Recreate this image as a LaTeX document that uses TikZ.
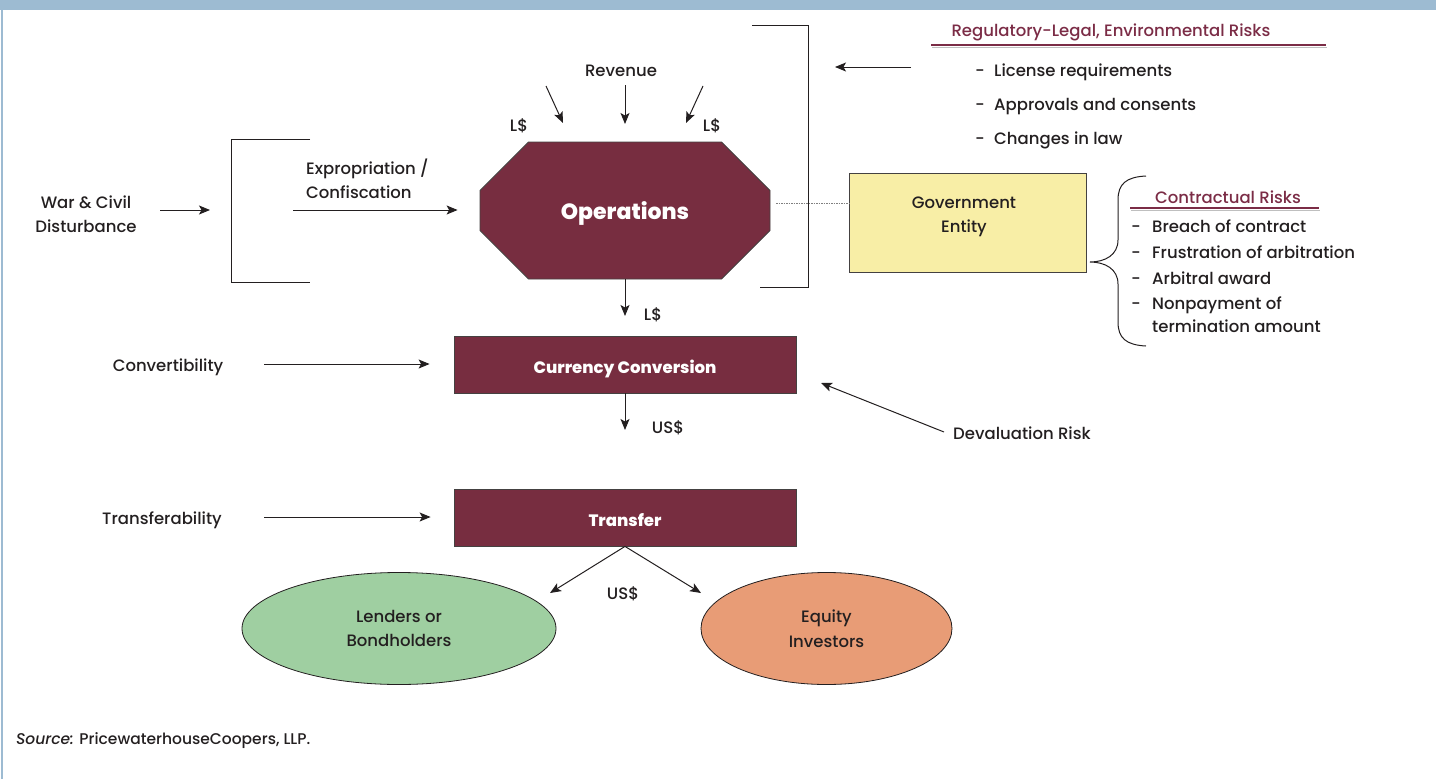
\documentclass[tikz,border=0pt]{standalone}
\usepackage{fontspec}
\setmainfont{Poppins}[UprightFont=* Medium,BoldFont=* ExtraBold,ItalicFont=* Medium Italic]
\usetikzlibrary{arrows.meta,shapes.geometric,shapes.misc}

\definecolor{opsred}{HTML}{772D40}
\definecolor{headred}{HTML}{7B2C46}
\definecolor{lendgreen}{HTML}{9FCFA1}
\definecolor{eqorange}{HTML}{E89C76}
\definecolor{govyellow}{HTML}{F8EEA6}
\definecolor{bandblue}{HTML}{9DBBD2}
\definecolor{txt}{HTML}{231F20}

\newcommand\lblfont{\fontsize{16.5}{24.5}\selectfont}
\newcommand\boxfont{\bfseries\fontsize{16.5}{20}\selectfont}
\newcommand\opsfont{\bfseries\fontsize{22}{26}\selectfont}
\newcommand\srcfont{\fontsize{15.5}{20}\selectfont}

\begin{document}
\begin{tikzpicture}[x=1pt,y=-1pt,
		lbl/.style={font=\lblfont,text=txt,inner sep=0pt,align=center},
		item/.style={lbl,anchor=west,text height=12pt,text depth=0pt},
		arr/.style={draw=txt,line width=1pt,-{Stealth[length=11pt,width=9pt,inset=2.5pt]}},
		darkbox/.style={draw=txt!85,fill=opsred,text=white,font=\boxfont,line width=0.8pt,
			minimum width=342pt,minimum height=57pt,inner sep=0pt,text height=18pt,text depth=0pt},
		octbox/.style={darkbox,chamfered rectangle,chamfered rectangle xsep=39pt,
			chamfered rectangle ysep=40pt,minimum width=290pt,minimum height=137pt,font=\opsfont,
			text height=17pt,text depth=0pt},
		party/.style={lbl,ellipse,draw=txt,line width=0.8pt,minimum height=112pt},
		bracket/.style={draw=txt,line width=1pt},
		rule/.style={draw=headred,line width=2.4pt}]
	\useasboundingbox (0,0) rectangle (1436,779);
	% frame
	\fill[bandblue] (0,0) rectangle (1436,10);
	\draw[bandblue,line width=1.5pt] (2,10) -- (2,779);

	% cash flow chain
	\node[octbox] (ops) at (625,210.5) {Operations};
	\node[darkbox] (conv) at (625,364.5) {Currency Conversion};
	\node[darkbox] (trans) at (625,517.5) {Transfer};
	\node[party,fill=lendgreen,minimum width=314pt] (lend) at (399,628.5) {Lenders or\\Bondholders};
	\node[party,fill=eqorange,minimum width=251pt] (equity) at (826.5,628.5) {Equity\\Investors};

	% revenue in
	\node[lbl] (rev) at (621,71) {Revenue};
	\node[lbl] (lsl) at (519,126) {L\$};
	\node[lbl] (lsr) at (712,126) {L\$};
	\coordinate (revl0) at (546,86);
	\coordinate (revl1) at (563,123);
	\coordinate (revm1) at (625,124);
	\coordinate (revr0) at (703,86);
	\coordinate (revr1) at (686,123);
	\draw[arr] (revl0) -- (revl1);
	\draw[arr,shorten <=8pt] (rev.south -| revm1) -- (revm1);
	\draw[arr] (revr0) -- (revr1);

	% down the chain
	\coordinate (opsout) at (625,316);
	\coordinate (convout) at (625,430);
	\draw[arr] (ops.south) -- (opsout);
	\node[lbl] (ls2) at (653,315) {L\$};
	\draw[arr] (conv.south) -- (convout);
	\node[lbl] (us1) at (668,428) {US\$};
	\coordinate (tolend) at (550,593);
	\coordinate (toeq) at (701,593);
	\draw[arr] (trans.south) -- (tolend);
	\draw[arr] (trans.south) -- (toeq);
	\node[lbl] (us2) at (623,594) {US\$};

	% left side risks
	\node[lbl] (war) at (86,214) {War \& Civil\\Disturbance};
	\coordinate (war0) at (160,210);
	\coordinate (war1) at (210,210);
	\draw[arr] (war0) -- (war1);
	\draw[bracket] (310,139) -- (231,139) -- (231,282) -- (310,282);
	\node[lbl,align=left,anchor=west] (expr) at (306,179) {Expropriation /\\Confiscation};
	\coordinate (exprin) at (293,210);
	\draw[arr,shorten >=22pt] (exprin) -- (ops.west |- exprin);
	\node[lbl] (convl) at (168,367) {Convertibility};
	\coordinate (convin) at (264,364);
	\draw[arr,shorten >=24pt] (convin) -- (conv.west |- convin);
	\node[lbl] (transl) at (162,520) {Transferability};
	\coordinate (transin) at (264,517);
	\draw[arr,shorten >=23pt] (transin) -- (trans.west |- transin);

	% devaluation
	\node[lbl,anchor=west] (devl) at (953,433) {Devaluation Risk};
	\coordinate (dev0) at (944,432);
	\coordinate (dev1) at (821,383);
	\draw[arr] (dev0) -- (dev1);

	% regulatory risks
	\draw[bracket] (752,25) -- (808,25) -- (808,287) -- (760,287);
	\coordinate (reg0) at (911,67);
	\coordinate (reg1) at (835,67);
	\draw[arr] (reg0) -- (reg1);
	\node[lbl,text=headred] (reghd) at (1111,32) {Regulatory-Legal, Environmental Risks};
	\draw[gray!50,line width=1pt] (932,47.2) -- (1327,47.2);
	\draw[rule] (931,45) -- (1326,45);
	\foreach \txt/\y [count=\i] in {License requirements/70,Approvals and consents/104,Changes in law/138}{
		\node[item] (regdash\i) at (975,\y) {-};
		\node[item] (reg\i) at (994,\y) {\txt};
	}

	% government entity
	\node[lbl,draw=txt!85,fill=govyellow,line width=0.8pt,minimum width=237pt,minimum height=99pt] (gov) at (967.5,222.5) {};
	\node[lbl] (govtxt) at (964,217) {Government\\Entity};
	\coordinate (dot0) at (776,203);
	\draw[gray,line width=0.6pt,dash pattern=on 1.5pt off 1pt] (dot0) -- (gov.west |- dot0);

	% contractual risks
	\draw[txt,line width=1pt] (1146,176) .. controls (1126,177) and (1118,184) .. (1118,200)
		-- (1118,240) .. controls (1118,255) and (1105,262) .. (1090,262)
		.. controls (1105,262) and (1118,269) .. (1118,284)
		-- (1118,322) .. controls (1118,338) and (1126,345) .. (1146,346);
	\node[lbl,text=headred] (conhd) at (1228,197) {Contractual Risks};
	\draw[gray!50,line width=1pt] (1131,210.2) -- (1320,210.2);
	\draw[rule] (1130,208) -- (1319,208);
	\foreach \txt/\y [count=\i] in {Breach of contract/226,Frustration of arbitration/252,Arbitral award/278,Nonpayment of/303}{
		\node[item] (condash\i) at (1131,\y) {-};
		\node[item] (con\i) at (1152,\y) {\txt};
	}
	\node[item] (con5) at (1152,326) {termination amount};

	% source line
	\node[lbl,anchor=west,font=\srcfont] (src) at (16,741) {\textit{Source:} PricewaterhouseCoopers, LLP.};
\end{tikzpicture}
\end{document}
